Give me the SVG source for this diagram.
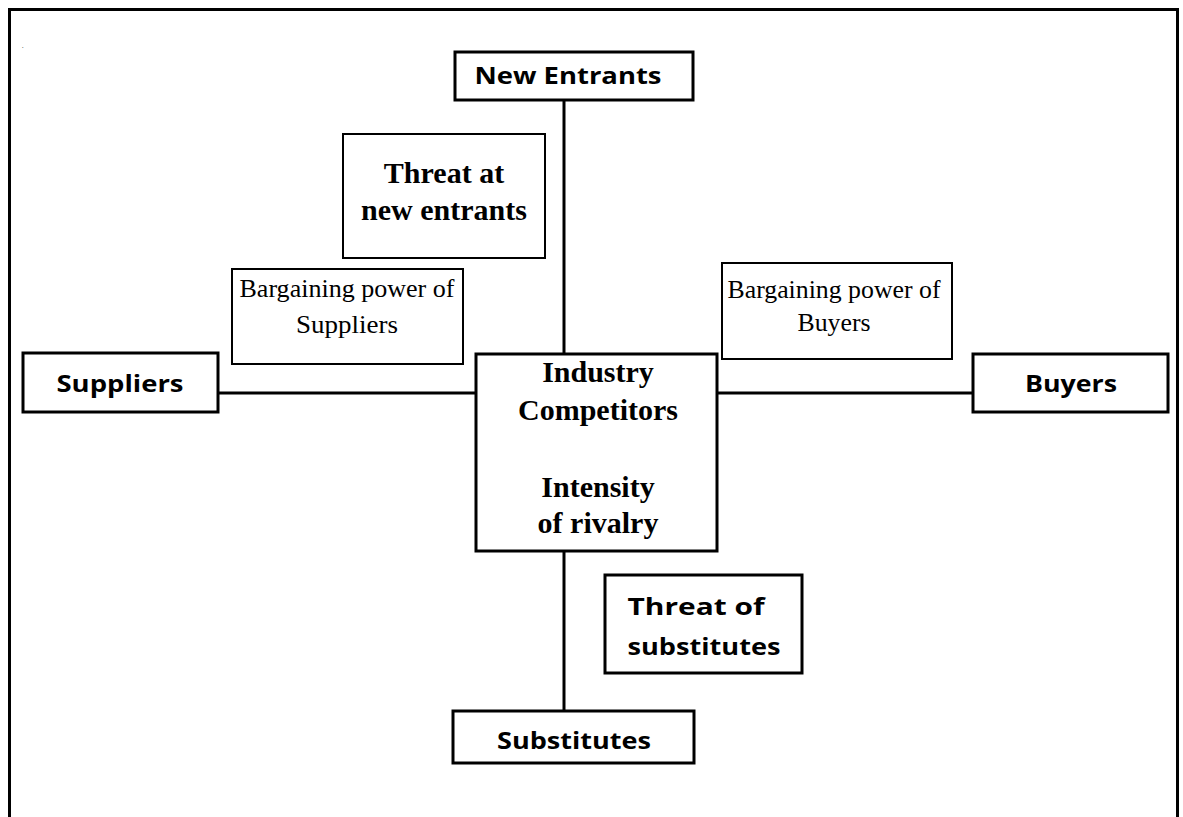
<svg xmlns="http://www.w3.org/2000/svg" width="1183" height="817" viewBox="0 0 1183 817">
<style>
.box{fill:#fff;stroke:#000;stroke-width:3}
.lbox{fill:#fff;stroke:#000;stroke-width:2}
.sans{font-family:"Open Sans","DejaVu Sans",sans-serif;font-weight:bold;font-size:23px;fill:#000;text-anchor:middle}
.bser{font-family:"Liberation Serif","Times New Roman",serif;font-weight:bold;font-size:30px;fill:#000;text-anchor:middle}
.ser{font-family:"Liberation Serif","Times New Roman",serif;font-size:24.5px;fill:#000;text-anchor:middle}
.ln{stroke:#000;stroke-width:3;fill:none}
</style>
<rect width="1183" height="817" fill="#fff"/>
<path d="M9.5 817 V9.5 H1177.5 V817" fill="none" stroke="#000" stroke-width="3"/>
<text x="22" y="48" font-family="Liberation Serif,serif" font-size="6">.</text>
<g id="connectors">
<line class="ln" x1="564" y1="100" x2="564" y2="354"/>
<line class="ln" x1="564" y1="551" x2="564" y2="711"/>
<line class="ln" x1="218" y1="393" x2="476" y2="393"/>
<line class="ln" x1="717" y1="393" x2="973" y2="393"/>
</g>
<g id="new-entrants">
<rect class="box" x="455" y="52" width="238" height="48"/>
<text class="sans" x="568" y="84" textLength="187" lengthAdjust="spacingAndGlyphs">New Entrants</text>
</g>
<g id="threat-new-entrants">
<rect class="lbox" x="343" y="134" width="202" height="124"/>
<text class="bser" x="444" y="183">Threat at</text>
<text class="bser" x="444" y="220">new entrants</text>
</g>
<g id="bp-suppliers">
<rect class="lbox" x="232" y="269" width="231" height="95"/>
<text class="ser" x="347" y="297" textLength="215" lengthAdjust="spacingAndGlyphs">Bargaining power of</text>
<text class="ser" x="347" y="333" textLength="102" lengthAdjust="spacingAndGlyphs">Suppliers</text>
</g>
<g id="bp-buyers">
<rect class="lbox" x="722" y="263" width="230" height="96"/>
<text class="ser" x="834" y="298" textLength="213" lengthAdjust="spacingAndGlyphs">Bargaining power of</text>
<text class="ser" x="834" y="331" textLength="73" lengthAdjust="spacingAndGlyphs">Buyers</text>
</g>
<g id="suppliers">
<rect class="box" x="23" y="353" width="195" height="59"/>
<text class="sans" x="120" y="392" textLength="127" lengthAdjust="spacingAndGlyphs">Suppliers</text>
</g>
<g id="buyers">
<rect class="box" x="973" y="354" width="195" height="58"/>
<text class="sans" x="1071" y="392" textLength="92" lengthAdjust="spacingAndGlyphs">Buyers</text>
</g>
<g id="industry">
<rect class="box" x="476" y="354" width="241" height="197"/>
<text class="bser" x="598" y="382">Industry</text>
<text class="bser" x="598" y="420">Competitors</text>
<text class="bser" x="598" y="497">Intensity</text>
<text class="bser" x="598" y="533">of rivalry</text>
</g>
<g id="threat-substitutes">
<rect class="box" x="605" y="575" width="197" height="98"/>
<text class="sans" x="696" y="615" textLength="137" lengthAdjust="spacingAndGlyphs">Threat of</text>
<text class="sans" x="704" y="655" textLength="153" lengthAdjust="spacingAndGlyphs">substitutes</text>
</g>
<g id="substitutes">
<rect class="box" x="453" y="711" width="241" height="52"/>
<text class="sans" x="574" y="749" textLength="154" lengthAdjust="spacingAndGlyphs">Substitutes</text>
</g>
</svg>
